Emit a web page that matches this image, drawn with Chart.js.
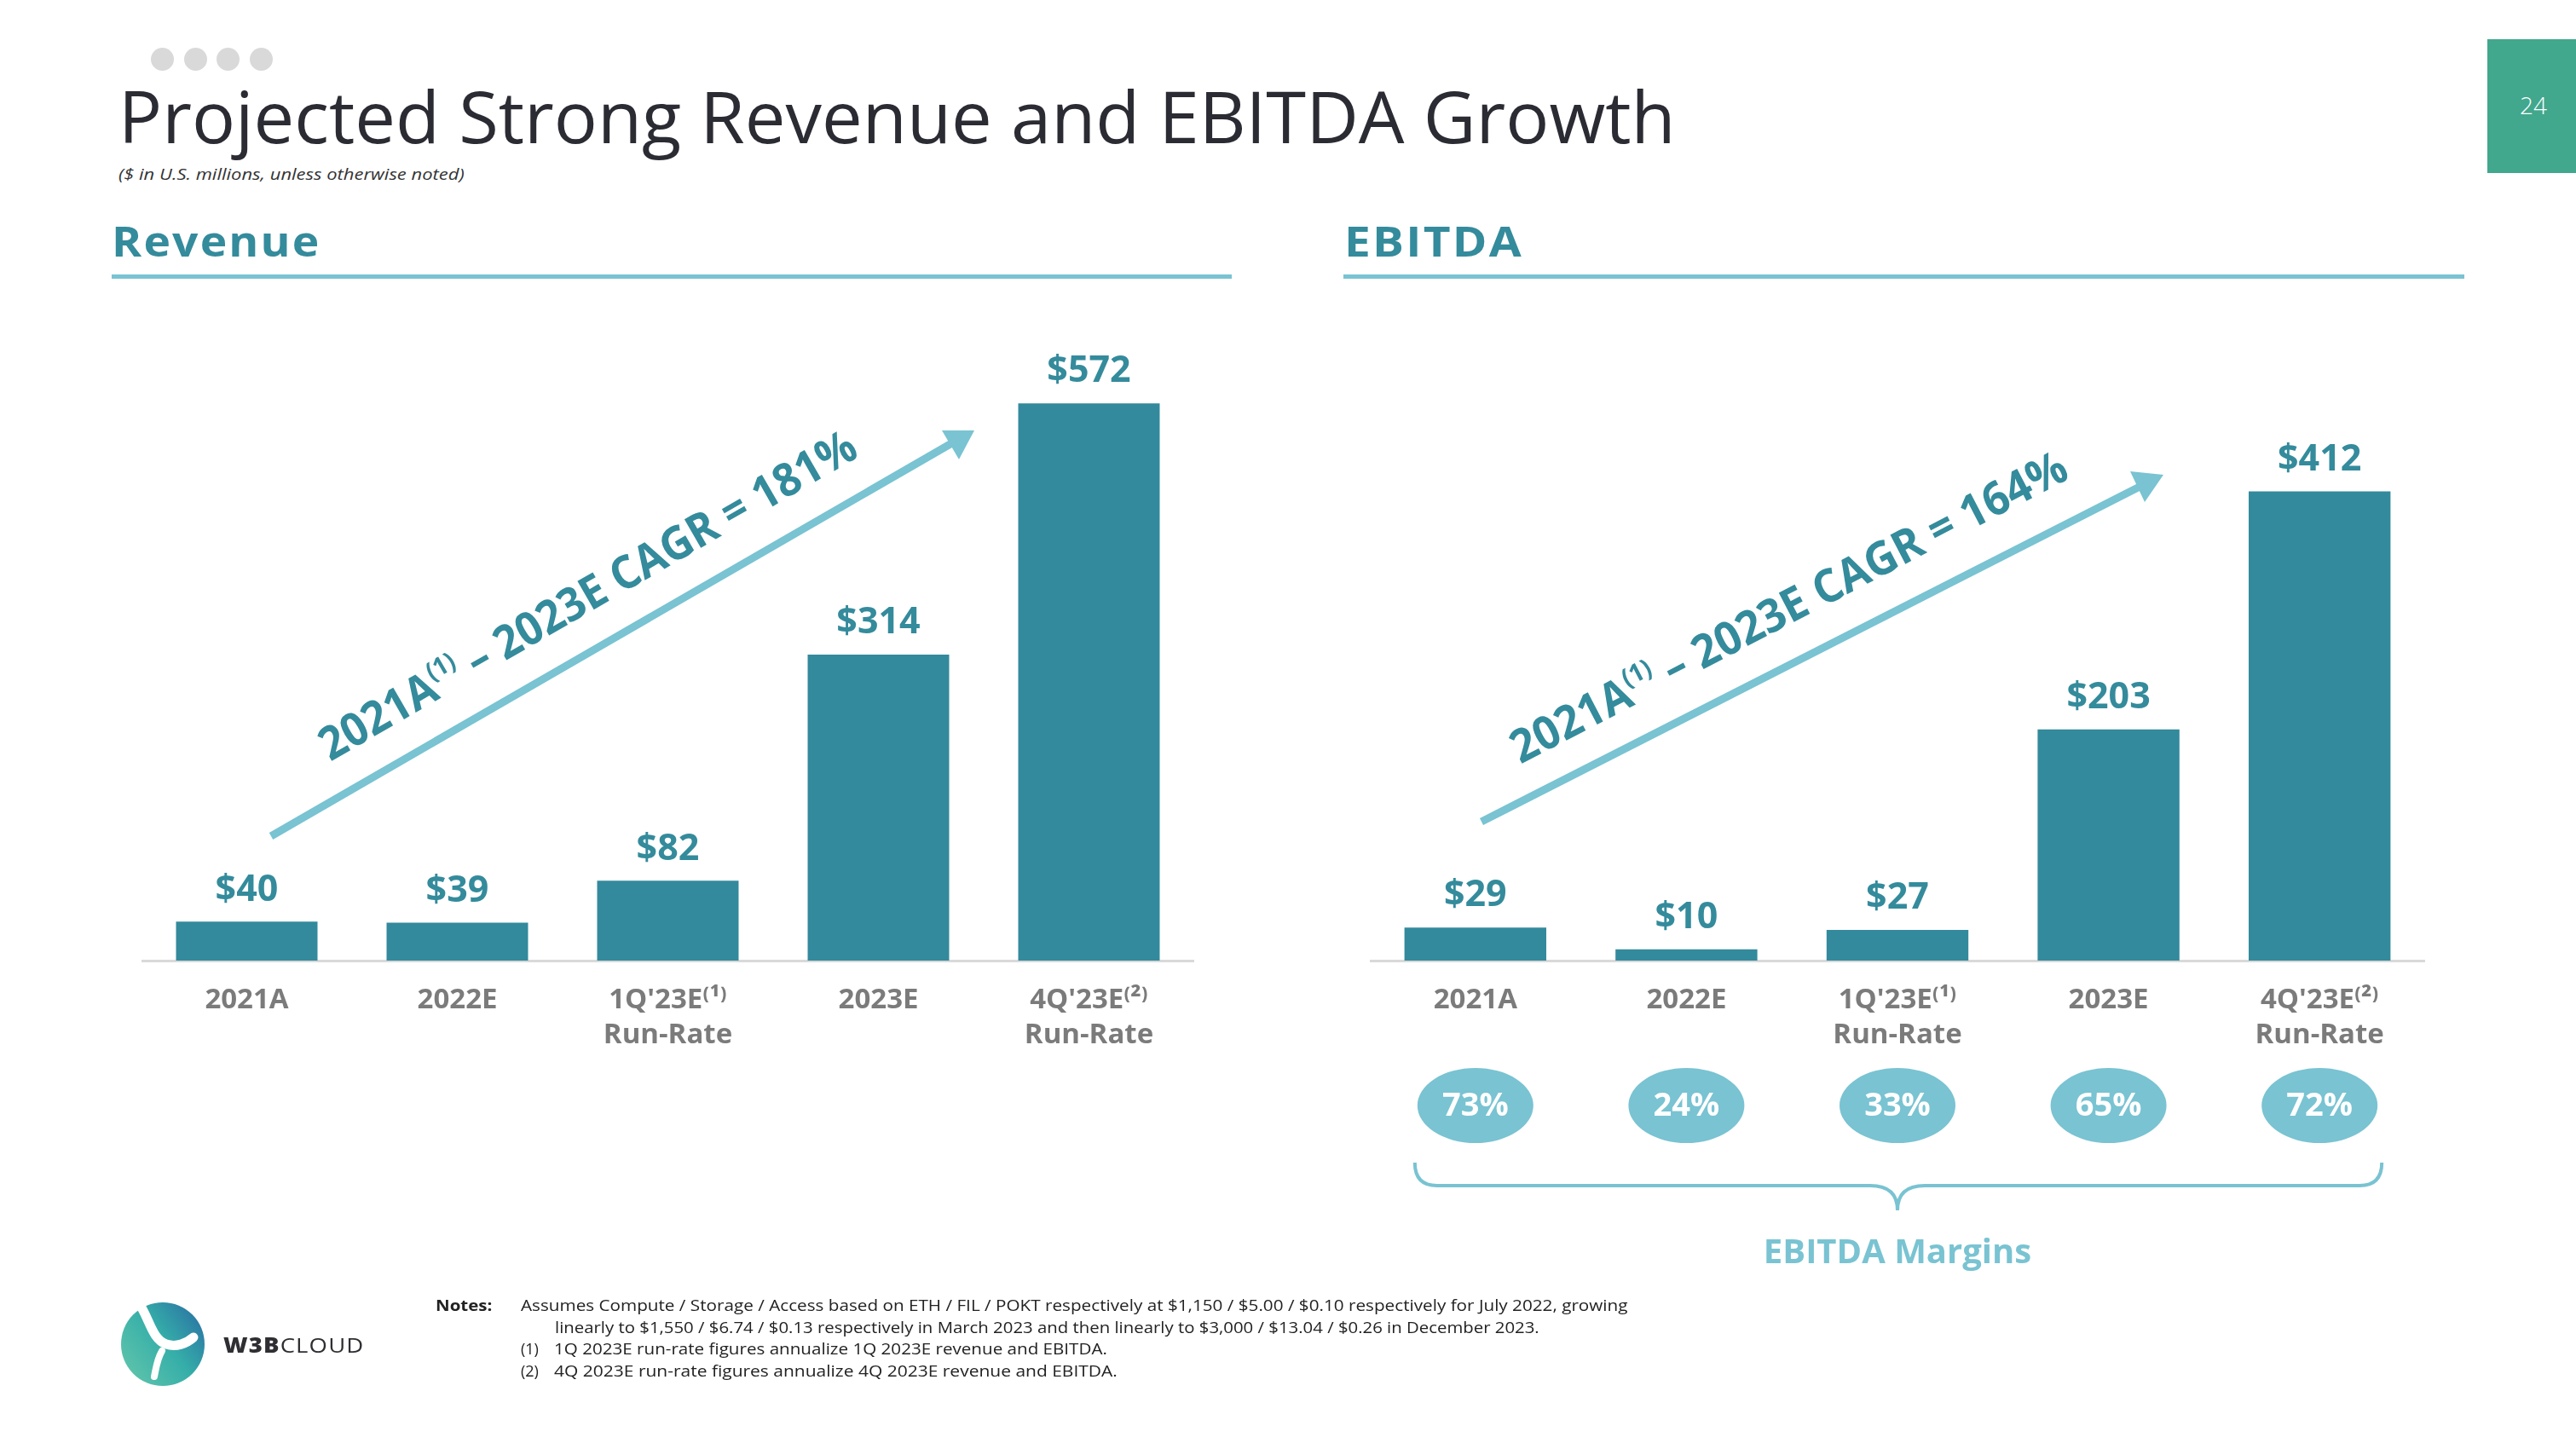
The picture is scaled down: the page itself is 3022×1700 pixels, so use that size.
<!DOCTYPE html>
<html>
<head>
<meta charset="utf-8">
<script src="https://cdn.jsdelivr.net/npm/chart.js@4.4.0/dist/chart.umd.min.js"></script>
<style>
html,body{margin:0;padding:0;background:#fff;}
#page{position:relative;width:3022px;height:1700px;overflow:hidden;background:#fff;font-family:'Open Sans',sans-serif;}
.t{position:absolute;white-space:nowrap;line-height:1;transform-origin:0 50%;}
.c{position:absolute;white-space:nowrap;line-height:1;transform-origin:50% 50%;}
.dot{position:absolute;width:27px;height:27px;border-radius:50%;background:#d9d9d9;}
canvas{position:absolute;}
sup.s{font-size:0.55em;vertical-align:0.75em;line-height:0;}
</style>
</head>
<body>
<div id="page">
  <div class="dot" style="left:177px;top:56px"></div>
  <div class="dot" style="left:216px;top:56px"></div>
  <div class="dot" style="left:254px;top:56px"></div>
  <div class="dot" style="left:293px;top:56px"></div>

  <div class="t" data-w="1827" style="left:139px;top:94px;font-size:84px;color:#2b2b33;font-weight:400;">Projected Strong Revenue and EBITDA Growth</div>
  <div class="t" data-w="406" style="left:139px;top:195px;font-size:19px;color:#333;font-style:italic;">($ in U.S. millions, unless otherwise noted)</div>

  <div style="position:absolute;left:2918px;top:46px;width:104px;height:157px;background:#41a78d;"></div>
  <div class="c" style="left:2972px;top:123px;font-size:28px;color:#fff;font-weight:300;transform:translate(-50%,-50%);">24</div>

  <div class="t" data-w="245" style="left:131px;top:258px;font-size:49px;color:#348b9c;font-weight:700;letter-spacing:2px;">Revenue</div>
  <div style="position:absolute;left:131px;top:322px;width:1314px;height:5px;background:#79c3d2;"></div>
  <div class="t" data-w="210" style="left:1577px;top:258px;font-size:49px;color:#348b9c;font-weight:700;letter-spacing:2px;">EBITDA</div>
  <div style="position:absolute;left:1576px;top:322px;width:1315px;height:5px;background:#79c3d2;"></div>

  <canvas id="revChart" width="1235" height="857" style="left:166px;top:400px;width:1235px;height:857px;"></canvas>
  <canvas id="ebChart" width="1238" height="1107" style="left:1607px;top:400px;width:1238px;height:1107px;"></canvas>

  <svg style="position:absolute;left:0;top:0;" width="3022" height="1700">
    <g stroke="#79c3d2" stroke-width="9" stroke-linecap="butt">
      <line x1="318" y1="981" x2="1120" y2="518"/>
      <line x1="1738" y1="964" x2="2514" y2="569"/>
    </g>
    <g fill="#79c3d2">
      <polygon points="1143,505 1105,505 1125,539"/>
      <polygon points="2538,557 2499,553 2516,589"/>
    </g>
  </svg>

  <div class="c" data-w="718" data-rot="-30" style="left:688px;top:696px;font-size:54px;color:#348b9c;font-weight:700;">2021A<sup class="s">(1)</sup> – 2023E CAGR = 181%</div>
  <div class="c" data-w="728" data-rot="-27.5" style="left:2097px;top:710px;font-size:54px;color:#348b9c;font-weight:700;">2021A<sup class="s">(1)</sup> – 2023E CAGR = 164%</div>

  <svg style="position:absolute;left:140px;top:1527px;" width="102" height="100" viewBox="0 0 100 100">
    <defs>
      <linearGradient id="lg" x1="1" y1="0.15" x2="0" y2="0.9">
        <stop offset="0" stop-color="#2a72a3"/>
        <stop offset="0.45" stop-color="#35aea9"/>
        <stop offset="1" stop-color="#63c6ab"/>
      </linearGradient>
    </defs>
    <circle cx="50" cy="50" r="49" fill="url(#lg)"/>
    <g fill="none" stroke="#ffffff" stroke-linecap="round">
      <path d="M18 -4 C34 16 36 44 54 50 C66 54 78 49 86 42" stroke-width="11"/>
      <path d="M49 58 C43 68 42 79 40 88" stroke-width="8"/>
    </g>
    <path d="M0 0 L22 0 C18 12 10 22 0 28 Z" fill="#ffffff"/>
  </svg>
  <div class="t" data-w="165" style="left:262px;top:1566px;font-size:24px;color:#2e2e33;letter-spacing:1px;"><b style="font-weight:800;">W3B</b>CLOUD</div>

  <div class="t" data-w="66" style="left:511px;top:1522px;font-size:18px;color:#222;font-weight:700;">Notes:</div>
  <div class="t" data-w="1299" style="left:611px;top:1522px;font-size:18px;color:#222;">Assumes Compute / Storage / Access based on ETH / FIL / POKT respectively at $1,150 / $5.00 / $0.10 respectively for July 2022, growing</div>
  <div class="t" data-w="1155" style="left:651px;top:1548px;font-size:18px;color:#222;">linearly to $1,550 / $6.74 / $0.13 respectively in March 2023 and then linearly to $3,000 / $13.04 / $0.26 in December 2023.</div>
  <div class="t" style="left:611px;top:1573px;font-size:18px;color:#222;">(1)</div>
  <div class="t" data-w="649" style="left:650px;top:1573px;font-size:18px;color:#222;">1Q 2023E run-rate figures annualize 1Q 2023E revenue and EBITDA.</div>
  <div class="t" style="left:611px;top:1599px;font-size:18px;color:#222;">(2)</div>
  <div class="t" data-w="661" style="left:650px;top:1599px;font-size:18px;color:#222;">4Q 2023E run-rate figures annualize 4Q 2023E revenue and EBITDA.</div>
</div>

<script>
// ---- data ----
const categories = [["2021A"], ["2022E"], ["1Q'23E⁽¹⁾", "Run-Rate"], ["2023E"], ["4Q'23E⁽²⁾", "Run-Rate"]];
const revenueValues = [40, 39, 82, 314, 572];
const ebitdaValues = [29, 10, 27, 203, 412];
const ebitdaMargins = [73, 24, 33, 65, 72];

// ---- styles ----
const BAR = '#338a9c';
const TEAL_TEXT = '#348b9c';
const LIGHT = '#79c3d2';
const GRAY = '#7b7b7b';
const FONT = "'Open Sans', sans-serif";

const valueLabels = {
  id: 'valueLabels',
  afterDatasetsDraw(chart) {
    const ctx = chart.ctx;
    const meta = chart.getDatasetMeta(0);
    const vals = chart.data.datasets[0].data;
    ctx.save();
    ctx.font = 'bold 43px ' + FONT;
    ctx.fillStyle = TEAL_TEXT;
    ctx.textAlign = 'center';
    ctx.textBaseline = 'middle';
    meta.data.forEach((bar, i) => {
      ctx.fillText('$' + vals[i], bar.x, bar.y - 37);
    });
    ctx.restore();
  }
};

const marginsPlugin = {
  id: 'margins',
  afterDraw(chart) {
    const ctx = chart.ctx;
    const xs = chart.scales.x;
    const base = chart.chartArea.bottom;
    ctx.save();
    ebitdaMargins.forEach((m, i) => {
      const x = xs.getPixelForValue(i), y = base + 170;
      ctx.beginPath();
      ctx.ellipse(x, y, 68, 44, 0, 0, Math.PI * 2);
      ctx.fillStyle = LIGHT;
      ctx.fill();
      ctx.fillStyle = '#ffffff';
      ctx.font = 'bold 38px ' + FONT;
      ctx.textAlign = 'center';
      ctx.textBaseline = 'middle';
      ctx.fillText(m + '%', x, y + 1);
    });
    const L = xs.getPixelForValue(0) - 71;
    const R = xs.getPixelForValue(ebitdaMargins.length - 1) + 73;
    const C = xs.getPixelForValue(2);
    const top = base + 237, mid = base + 264, tip = base + 293, r = 26, r2 = 32;
    ctx.beginPath();
    ctx.moveTo(L, top);
    ctx.quadraticCurveTo(L, mid, L + r, mid);
    ctx.lineTo(C - r2, mid);
    ctx.quadraticCurveTo(C, mid, C, tip);
    ctx.quadraticCurveTo(C, mid, C + r2, mid);
    ctx.lineTo(R - r, mid);
    ctx.quadraticCurveTo(R, mid, R, top);
    ctx.strokeStyle = LIGHT;
    ctx.lineWidth = 4;
    ctx.stroke();
    ctx.fillStyle = LIGHT;
    ctx.font = 'bold 40px ' + FONT;
    ctx.textAlign = 'center';
    ctx.textBaseline = 'middle';
    ctx.fillText('EBITDA Margins', C, base + 344);
    ctx.restore();
  }
};

function makeChart(id, values, yMax, axisHeight, extra) {
  return new Chart(document.getElementById(id), {
    type: 'bar',
    data: {
      labels: categories,
      datasets: [{
        data: values,
        backgroundColor: BAR,
        borderWidth: 0,
        barPercentage: 0.672,
        categoryPercentage: 1
      }]
    },
    options: {
      responsive: false,
      animation: false,
      devicePixelRatio: 1,
      layout: { padding: 0 },
      plugins: { legend: { display: false }, tooltip: { enabled: false } },
      scales: {
        x: {
          grid: { display: false, drawTicks: false },
          border: { display: true, color: '#d9d9d9', width: 3 },
          ticks: {
            color: GRAY,
            font: { family: FONT, weight: 'bold', size: 33, lineHeight: 1.25 },
            padding: 26,
            maxRotation: 0,
            autoSkip: false
          },
          afterFit(scale) { scale.height = axisHeight; }
        },
        y: { display: false, min: 0, max: yMax }
      }
    },
    plugins: [valueLabels].concat(extra)
  });
}

function fitTexts() {
  document.querySelectorAll('[data-w]').forEach(el => {
    const w = +el.dataset.w;
    const nat = el.offsetWidth;
    const s = w / nat;
    if (el.dataset.rot !== undefined) {
      el.style.transform = 'translate(-50%,-50%) rotate(' + el.dataset.rot + 'deg) scaleX(' + s + ')';
    } else {
      el.style.transform = 'scaleX(' + s + ')';
    }
  });
}

function init() {
  fitTexts();
  makeChart('revChart', revenueValues, 636, 130, []);
  makeChart('ebChart', ebitdaValues, 544, 380, [marginsPlugin]);
}
if (document.fonts && document.fonts.ready) { document.fonts.ready.then(init); } else { init(); }
</script>
</body>
</html>
